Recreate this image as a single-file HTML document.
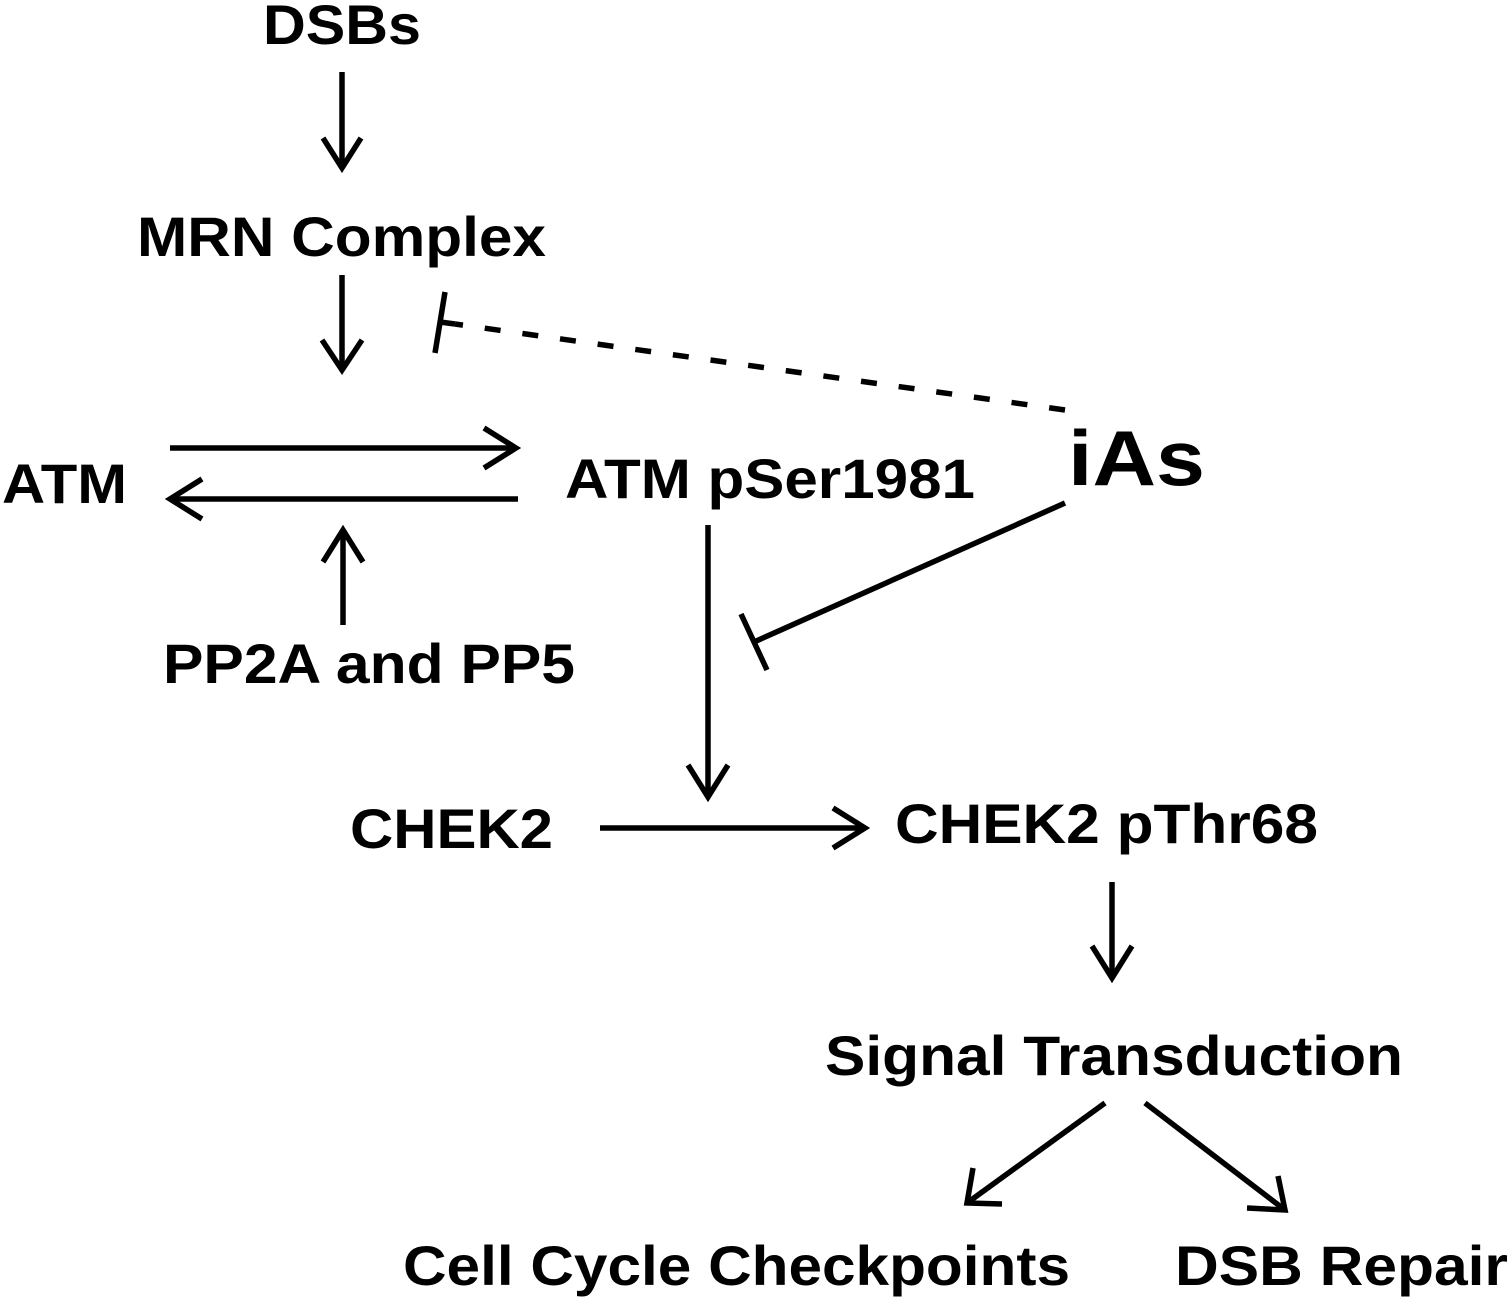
<!DOCTYPE html>
<html><head><style>html,body{margin:0;padding:0;background:#fff}svg{display:block}</style></head><body>
<svg width="1510" height="1303" viewBox="0 0 1510 1303" xmlns="http://www.w3.org/2000/svg" font-family="Liberation Sans, Arial, sans-serif" font-weight="bold" fill="#000">
<g font-size="56">
<text x="263" y="44" textLength="158" lengthAdjust="spacingAndGlyphs">DSBs</text>
<text x="137" y="256" textLength="409" lengthAdjust="spacingAndGlyphs">MRN Complex</text>
<text x="2" y="503" textLength="125" lengthAdjust="spacingAndGlyphs">ATM</text>
<text x="565" y="498" textLength="410" lengthAdjust="spacingAndGlyphs">ATM pSer1981</text>
<text x="163" y="683" textLength="412" lengthAdjust="spacingAndGlyphs">PP2A and PP5</text>
<text x="350" y="848" textLength="203" lengthAdjust="spacingAndGlyphs">CHEK2</text>
<text x="895" y="843" textLength="423" lengthAdjust="spacingAndGlyphs">CHEK2 pThr68</text>
<text x="825" y="1075" textLength="578" lengthAdjust="spacingAndGlyphs">Signal Transduction</text>
<text x="403" y="1285" textLength="667" lengthAdjust="spacingAndGlyphs">Cell Cycle Checkpoints</text>
<text x="1175" y="1285" textLength="333" lengthAdjust="spacingAndGlyphs">DSB Repair</text>
</g>
<text x="1068" y="485" font-size="78" textLength="137" lengthAdjust="spacingAndGlyphs">iAs</text>
<g stroke="#000" stroke-width="5.5" fill="none">
<line x1="342" y1="72" x2="342" y2="168"/><polyline points="323,138 342,168 361,138"/>
<line x1="342" y1="275" x2="342" y2="370"/><polyline points="322,340 342,370 362,340"/>
<line x1="170" y1="448" x2="516" y2="448"/><polyline points="484,428 516,448 484,468"/>
<line x1="170" y1="499" x2="518" y2="499"/><polyline points="202,479 170,499 202,519"/>
<line x1="343" y1="625" x2="343" y2="530"/><polyline points="323,562 343,530 363,562"/>
<line x1="708" y1="525" x2="708" y2="797"/><polyline points="688,765 708,797 728,765"/>
<line x1="600" y1="828" x2="865" y2="828"/><polyline points="833,808 865,828 833,848"/>
<line x1="1112" y1="882" x2="1112" y2="978"/><polyline points="1092,946 1112,978 1132,946"/>
<line x1="1105" y1="1103" x2="967" y2="1203"/><polyline points="973,1168 967,1203 1002,1204"/>
<line x1="1145" y1="1103" x2="1285" y2="1210"/><polyline points="1247,1208 1285,1210 1278,1176"/>
<line x1="1065" y1="503" x2="754" y2="642"/><line x1="741" y1="614" x2="767" y2="670"/>
<line x1="1065" y1="410" x2="455" y2="324" stroke-dasharray="16,22"/>
<line x1="440" y1="322" x2="455" y2="324"/>
<line x1="445" y1="292" x2="435" y2="353"/>
</g>
</svg>
</body></html>
